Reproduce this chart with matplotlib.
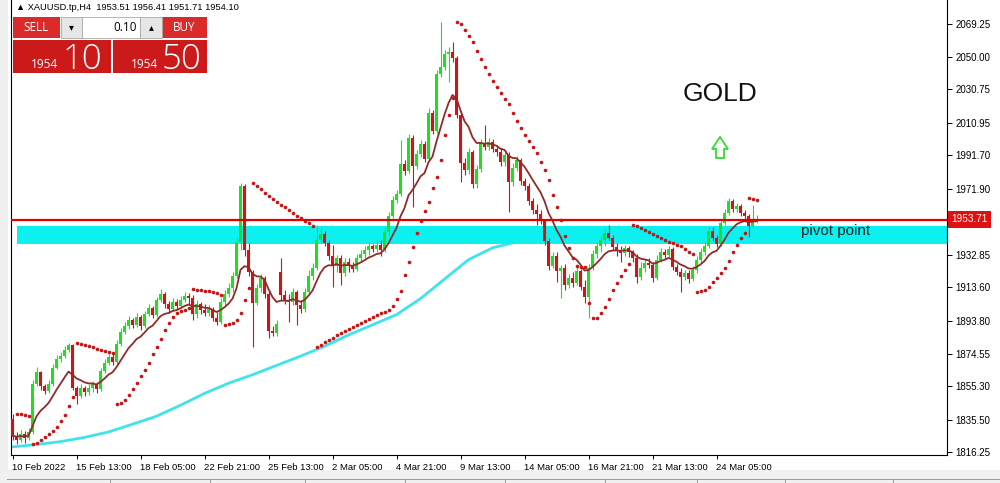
import matplotlib
matplotlib.use("Agg")
import matplotlib.pyplot as plt
import numpy as np
import pandas as pd
from matplotlib.patches import Rectangle, Polygon
from matplotlib.lines import Line2D

# ---------------- data (XAUUSD H4) ----------------
opens = [1835.9, 1825.9, 1823.5, 1827.0, 1824.7, 1828.2, 1856.6, 1863.7, 1855.4, 1852.4,
         1856.6, 1866.0, 1871.3, 1873.1, 1876.7, 1879.6, 1854.2, 1849.5, 1854.2, 1851.8,
         1854.2, 1856.6, 1853.6, 1864.3, 1869.0, 1872.5, 1869.6, 1880.2, 1887.3, 1890.8,
         1894.4, 1891.4, 1896.1, 1890.8, 1897.9, 1901.5, 1897.3, 1906.2, 1909.7, 1903.8,
         1900.9, 1905.0, 1902.6, 1906.2, 1908.6, 1907.4, 1897.9, 1903.8, 1900.3, 1898.5,
         1900.9, 1895.6, 1893.2, 1905.0, 1909.7, 1913.3, 1920.4, 1940.5, 1973.5, 1935.7,
         1922.7, 1904.4, 1913.3, 1919.2, 1909.7, 1887.9, 1886.7, 1922.7, 1909.1, 1906.2,
         1905.0, 1910.9, 1903.2, 1900.9, 1910.9, 1920.4, 1925.1, 1941.6, 1945.2, 1939.9,
         1932.2, 1926.3, 1931.0, 1922.1, 1928.6, 1926.3, 1924.5, 1931.0, 1933.4, 1935.7,
         1938.1, 1936.3, 1938.7, 1935.7, 1946.4, 1955.8, 1965.3, 1968.8, 1986.5, 1982.4,
         2001.9, 1985.3, 1992.4, 1998.3, 1989.5, 2016.7, 2006.0, 2039.7, 2043.8, 2051.5,
         2052.7, 2049.1, 2015.5, 1987.1, 1983.0, 1993.6, 1974.7, 1983.6, 1998.9, 1996.6,
         1999.5, 1995.4, 1993.6, 1987.7, 1991.8, 1975.9, 1984.2, 1988.9, 1976.5, 1973.5,
         1964.7, 1959.4, 1957.0, 1952.9, 1941.0, 1926.3, 1932.2, 1923.3, 1925.1, 1915.0,
         1919.2, 1916.2, 1923.3, 1913.9, 1908.0, 1925.1, 1933.4, 1938.1, 1941.6, 1945.8,
         1942.8, 1937.5, 1935.7, 1934.0, 1936.9, 1934.5, 1931.0, 1919.8, 1925.1, 1928.0,
         1926.9, 1919.2, 1929.8, 1934.5, 1932.8, 1936.3, 1925.7, 1922.7, 1919.8, 1922.1,
         1918.6, 1923.9, 1929.8, 1934.5, 1938.1, 1947.0, 1942.8, 1939.3, 1951.7, 1957.6,
         1964.7, 1959.9, 1961.7, 1957.6, 1955.8, 1949.9, 1953.51]

highs = [1838.8, 1828.2, 1829.4, 1828.8, 1830.6, 1858.9, 1866.6, 1864.3, 1856.6, 1858.9,
         1868.4, 1873.7, 1875.5, 1879.0, 1880.8, 1880.2, 1855.4, 1856.6, 1855.4, 1856.6,
         1858.3, 1857.7, 1866.0, 1871.3, 1874.3, 1874.3, 1882.6, 1889.6, 1893.2, 1896.7,
         1895.6, 1898.5, 1897.3, 1899.7, 1903.8, 1902.6, 1908.0, 1912.7, 1910.9, 1905.6,
         1907.4, 1906.8, 1908.6, 1910.9, 1910.3, 1909.1, 1906.2, 1905.0, 1903.8, 1903.2,
         1902.1, 1899.1, 1907.4, 1912.1, 1916.2, 1922.7, 1942.8, 1975.3, 1974.7, 1939.9,
         1923.9, 1915.6, 1921.5, 1920.4, 1912.1, 1890.8, 1894.4, 1931.0, 1912.1, 1909.7,
         1913.3, 1912.1, 1906.2, 1913.3, 1923.9, 1928.0, 1950.5, 1948.7, 1947.0, 1941.6,
         1938.7, 1932.8, 1932.8, 1931.0, 1931.0, 1928.6, 1933.4, 1935.7, 1938.1, 1940.5,
         1939.3, 1941.6, 1941.6, 1948.7, 1958.2, 1967.6, 1971.2, 2000.7, 1988.9, 2004.2,
         2003.7, 1994.8, 2000.7, 2000.1, 2019.6, 2018.4, 2042.1, 2070.4, 2053.9, 2055.6,
         2058.6, 2050.3, 2017.2, 1990.1, 1996.0, 1994.8, 1985.9, 2001.3, 2009.6, 2001.9,
         2001.3, 1997.7, 1996.0, 1994.8, 1993.6, 1987.1, 1991.3, 1990.1, 1978.3, 1975.3,
         1966.4, 1962.9, 1959.4, 1954.0, 1942.8, 1934.5, 1934.5, 1926.9, 1927.4, 1921.5,
         1922.7, 1925.7, 1924.5, 1918.0, 1927.4, 1935.7, 1940.5, 1944.0, 1948.1, 1950.5,
         1944.6, 1939.9, 1938.1, 1938.7, 1938.1, 1935.7, 1933.4, 1928.6, 1930.4, 1931.0,
         1928.6, 1932.8, 1936.9, 1936.3, 1938.1, 1937.5, 1927.4, 1925.1, 1923.9, 1923.9,
         1926.3, 1932.2, 1936.9, 1940.5, 1949.3, 1949.3, 1944.6, 1953.4, 1959.9, 1966.4,
         1965.8, 1963.5, 1962.9, 1959.4, 1957.0, 1962.3, 1956.41]

lows = [1823.5, 1821.1, 1822.3, 1821.7, 1823.5, 1827.0, 1855.4, 1853.0, 1850.7, 1851.3,
        1855.4, 1865.4, 1869.6, 1871.9, 1875.5, 1853.0, 1844.8, 1848.3, 1849.5, 1850.1,
        1851.8, 1851.3, 1852.4, 1863.1, 1867.8, 1867.8, 1868.4, 1879.0, 1886.1, 1889.0,
        1889.6, 1890.2, 1888.5, 1889.6, 1896.7, 1895.6, 1896.1, 1905.0, 1901.5, 1898.5,
        1899.7, 1900.3, 1901.5, 1905.0, 1903.8, 1894.4, 1895.6, 1897.9, 1896.7, 1896.7,
        1893.8, 1891.4, 1892.0, 1903.2, 1908.0, 1910.9, 1919.2, 1935.7, 1932.2, 1920.4,
        1878.4, 1903.2, 1910.9, 1907.4, 1883.7, 1884.9, 1884.9, 1906.2, 1903.8, 1893.2,
        1903.2, 1891.4, 1898.5, 1899.1, 1909.1, 1918.0, 1923.9, 1939.9, 1938.1, 1929.8,
        1913.9, 1922.7, 1915.0, 1920.4, 1922.7, 1922.7, 1923.3, 1928.6, 1931.0, 1932.8,
        1934.5, 1934.5, 1932.2, 1934.5, 1944.0, 1954.6, 1963.5, 1967.6, 1980.0, 1981.2,
        1961.1, 1983.6, 1990.7, 1987.7, 1988.3, 2004.2, 2004.8, 2037.9, 2042.1, 2035.0,
        2046.8, 2013.7, 1975.9, 1980.0, 1980.6, 1972.3, 1972.3, 1981.8, 1994.8, 1994.8,
        1993.6, 1991.3, 1985.3, 1985.3, 1958.2, 1973.5, 1982.4, 1974.1, 1971.2, 1962.3,
        1957.0, 1950.5, 1951.1, 1938.7, 1923.9, 1925.1, 1916.8, 1907.4, 1912.1, 1913.3,
        1913.9, 1915.0, 1912.1, 1904.4, 1895.6, 1923.9, 1931.0, 1934.5, 1938.1, 1941.6,
        1935.7, 1932.2, 1928.6, 1932.2, 1931.6, 1928.6, 1916.2, 1918.0, 1922.7, 1925.1,
        1916.8, 1918.0, 1928.6, 1931.0, 1931.6, 1923.9, 1921.0, 1910.9, 1918.0, 1916.2,
        1917.4, 1922.1, 1928.0, 1932.8, 1936.9, 1941.0, 1937.5, 1938.1, 1950.5, 1956.4,
        1958.2, 1958.2, 1955.8, 1954.0, 1943.4, 1948.7, 1951.71]

closes = [1825.9, 1823.5, 1827.0, 1824.7, 1828.2, 1856.6, 1863.7, 1855.4, 1852.4, 1856.6,
          1866.0, 1871.3, 1873.1, 1876.7, 1879.6, 1854.2, 1849.5, 1854.2, 1851.8, 1854.2,
          1856.6, 1853.6, 1864.3, 1869.0, 1872.5, 1869.6, 1880.2, 1887.3, 1890.8, 1894.4,
          1891.4, 1896.1, 1890.8, 1897.9, 1901.5, 1897.3, 1906.2, 1909.7, 1903.8, 1900.9,
          1905.0, 1902.6, 1906.2, 1908.6, 1907.4, 1897.9, 1903.8, 1900.3, 1898.5, 1900.9,
          1895.6, 1893.2, 1905.0, 1909.7, 1913.3, 1920.4, 1940.5, 1973.5, 1935.7, 1922.7,
          1904.4, 1913.3, 1919.2, 1909.7, 1887.9, 1886.7, 1892.0, 1909.1, 1906.2, 1905.0,
          1910.9, 1903.2, 1900.9, 1910.9, 1920.4, 1925.1, 1941.6, 1945.2, 1939.9, 1932.2,
          1926.3, 1931.0, 1922.1, 1928.6, 1926.3, 1924.5, 1931.0, 1933.4, 1935.7, 1938.1,
          1936.3, 1938.7, 1935.7, 1946.4, 1955.8, 1965.3, 1968.8, 1986.5, 1982.4, 2001.9,
          1985.3, 1992.4, 1998.3, 1989.5, 2016.7, 2006.0, 2039.7, 2043.8, 2051.5, 2052.7,
          2049.1, 2015.5, 1987.1, 1983.0, 1993.6, 1974.7, 1983.6, 1998.9, 1996.6, 1999.5,
          1995.4, 1993.6, 1987.7, 1991.8, 1975.9, 1984.2, 1988.9, 1976.5, 1973.5, 1964.7,
          1959.4, 1957.0, 1952.9, 1941.0, 1926.3, 1932.2, 1923.3, 1925.1, 1915.0, 1919.2,
          1916.2, 1923.3, 1913.9, 1908.0, 1925.1, 1933.4, 1938.1, 1941.6, 1945.8, 1942.8,
          1937.5, 1935.7, 1934.0, 1936.9, 1934.5, 1931.0, 1919.8, 1925.1, 1928.0, 1926.9,
          1919.2, 1929.8, 1934.5, 1932.8, 1936.3, 1925.7, 1922.7, 1919.8, 1922.1, 1918.6,
          1923.9, 1929.8, 1934.5, 1938.1, 1947.0, 1942.8, 1939.3, 1951.7, 1957.6, 1964.7,
          1959.9, 1961.7, 1957.6, 1955.8, 1949.9, 1953.4, 1954.10]

# slow moving average (one reading per trading day = every 6th H4 bar)
slow_ma_bars = list(range(0, 187, 6))
slow_ma_values = [1819.4, 1820.8, 1822.5, 1825.0, 1828.2, 1832.8, 1837.5, 1844.0,
                  1851.0, 1857.0, 1862.0, 1867.5, 1873.0, 1878.8, 1885.5, 1891.5,
                  1897.5, 1907.0, 1918.5, 1930.0, 1937.0, 1940.5, 1941.5, 1942.5,
                  1943.5, 1944.5, 1945.0, 1945.5, 1946.0, 1946.5, 1947.0, 1947.5]

x_tick_bars = [0, 16, 32, 48, 64, 80, 96, 112, 128, 144, 160, 176]
x_tick_labels = ["10 Feb 2022", "15 Feb 13:00", "18 Feb 05:00", "22 Feb 21:00",
                 "25 Feb 13:00", "2 Mar 05:00", "4 Mar 21:00", "9 Mar 13:00",
                 "14 Mar 05:00", "16 Mar 21:00", "21 Mar 13:00", "24 Mar 05:00"]
y_tick_values = [2069.25, 2050.00, 2030.75, 2010.95, 1991.70, 1971.90, 1952.65,
                 1932.85, 1913.60, 1893.80, 1874.55, 1855.30, 1835.50, 1816.25]

pivot_zone = (1939.3, 1949.9)
price_line = 1953.71
ohlc_header = "\u25B2 XAUUSD.tp,H4  1953.51 1956.41 1951.71 1954.10"
sell_big, buy_big = ("1954", "10"), ("1954", "50")
lot_size = "0.10"

# ---------------- indicators ----------------
o = np.array(opens); h = np.array(highs); l = np.array(lows); c = np.array(closes)
n = len(c)
assert len(o) == len(h) == len(l) == n
fast_ma = pd.Series(c).ewm(span=10, adjust=False).mean().values


def parabolic_sar(hi, lo, step=0.02, amax=0.2):
    sar = np.zeros(len(hi))
    up = False
    af = step
    ep = lo[0]
    s = hi[0]
    sar[0] = s
    for i in range(1, len(hi)):
        s = s + af * (ep - s)
        if up:
            s = min(s, lo[i - 1], lo[max(i - 2, 0)])
            if lo[i] < s:
                up = False; s = ep; ep = lo[i]; af = step
            elif hi[i] > ep:
                ep = hi[i]; af = min(af + step, amax)
        else:
            s = max(s, hi[i - 1], hi[max(i - 2, 0)])
            if hi[i] > s:
                up = True; s = ep; ep = hi[i]; af = step
            elif lo[i] < ep:
                ep = lo[i]; af = min(af + step, amax)
        sar[i] = s
    return sar


sar = parabolic_sar(h, l)

# ---------------- figure ----------------
W, H = 1000, 483
fig = plt.figure(figsize=(W / 100, H / 100), dpi=100)
fig.patch.set_facecolor("white")
AX_FONT = ["Liberation Sans", "DejaVu Sans"]


def fx(x):
    return x / W


def fy(y):
    return 1 - y / H


ax = fig.add_axes([fx(11), fy(455), fx(947) - fx(11), fy(0) - fy(455)])
ax.set_facecolor("white")
ax.set_xlim(-0.375, 233.625)
ax.set_ylim(1814.6, 2083.4)

green, red = "#22DD22", "#D41212"
x = np.arange(n)
cols = np.where(c >= o, green, red)

ax.plot(slow_ma_bars, slow_ma_values, color="#3FE3EA", lw=2.0, zorder=1,
        solid_capstyle="round")
ax.axhspan(pivot_zone[0], pivot_zone[1], xmin=(1.0 + 0.375) / 234.0, xmax=1.0,
           color="#0DF0F0", lw=0, zorder=2)
ax.vlines(x, l, h, colors=cols, lw=0.8, zorder=4)
body = np.maximum(np.abs(c - o), 0.5)
ax.bar(x, body, bottom=np.minimum(o, c), width=0.8, color=cols, lw=0, zorder=4)
ax.plot(x, fast_ma, color="#8E2B2B", lw=1.3, zorder=5)
ax.plot(x[1:], sar[1:], ls="none", marker="o", ms=2.6, mfc="#C81414",
        mec="#C81414", mew=0, zorder=6)
ax.axhline(price_line, color="#E00000", lw=1.6, zorder=5.5)

ax.spines["top"].set_visible(False)
for side in ["left", "right", "bottom"]:
    ax.spines[side].set_color("black")
    ax.spines[side].set_linewidth(0.8)

ax.yaxis.tick_right()
ax.set_yticks(y_tick_values)
# the 1952.65 label sits under the current-price box, so it is not shown
ax.set_yticklabels(["" if abs(v - price_line) < 3 else "%.2f" % v
                    for v in y_tick_values], family=AX_FONT)
ax.tick_params(axis="y", direction="out", length=3.5, width=0.7, pad=2.5,
               labelsize=7.0, colors="black")
ax.set_xticks(x_tick_bars)
ax.set_xticklabels(x_tick_labels, family=AX_FONT)
ax.tick_params(axis="x", direction="out", length=3, width=0.7, pad=3,
               labelsize=6.8, colors="black")
for lbl in ax.get_xticklabels():
    lbl.set_horizontalalignment("left")

# current price label on the price scale
fig.text(fx(951), fy(219.5), "%.2f" % price_line, color="white", fontsize=7.2,
         ha="left", va="center", family=AX_FONT,
         bbox=dict(boxstyle="square,pad=0.35", fc="#E01010", ec="none"))

# annotation texts
fig.text(fx(720), fy(94), "GOLD", ha="center", va="center", fontsize=19,
         family="Liberation Sans", color="#111111")
fig.text(fx(801), fy(231), "pivot point", ha="left", va="center", fontsize=11,
         family="Liberation Sans", color="#222222", zorder=10)
arrow_px = [(712, 149), (720, 137), (728, 149), (724, 149), (724, 158),
            (716, 158), (716, 149)]
fig.add_artist(Polygon([(fx(a), fy(b)) for a, b in arrow_px], closed=True,
                       transform=fig.transFigure, fc="white", ec="#33DD33", lw=1.3))

# header line
fig.text(fx(16), fy(8), ohlc_header, ha="left", va="center", fontsize=6.7,
         color="black", family=AX_FONT)


def rect(x0, y0, x1, y1, **kw):
    fig.add_artist(Rectangle((fx(x0), fy(y1)), fx(x1) - fx(x0), fy(y0) - fy(y1),
                             transform=fig.transFigure, **kw))


# one-click trading panel
rect(13, 17, 60, 38, fc="#DB2A2A", ec="none")
rect(162, 17, 207, 38, fc="#DB2A2A", ec="none")
rect(61, 17, 82, 38, fc="#E6E6E6", ec="#A8A8A8", lw=0.6)
rect(82, 17, 140, 38, fc="white", ec="#A8A8A8", lw=0.6)
rect(140, 17, 162, 38, fc="#E6E6E6", ec="#A8A8A8", lw=0.6)
rect(13, 40, 111, 73, fc="#CC1A1A", ec="none")
rect(113, 40, 207, 73, fc="#CC1A1A", ec="none")
fig.text(fx(36.5), fy(27.5), "SELL", color="white", fontsize=8.5, ha="center",
         va="center", family="Open Sans")
fig.text(fx(184.5), fy(27.5), "BUY", color="white", fontsize=8.5, ha="center",
         va="center", family="Open Sans")
fig.text(fx(71.5), fy(27), "\u25BE", color="black", fontsize=7, ha="center", va="center")
fig.text(fx(151), fy(27), "\u25B4", color="black", fontsize=7, ha="center", va="center")
fig.text(fx(137), fy(27.5), lot_size, color="black", fontsize=8.5, ha="right",
         va="center", family="Open Sans")
fig.text(fx(58), fy(68), sell_big[0], color="white", fontsize=8.5, ha="right",
         va="baseline", family="Open Sans")
fig.text(fx(63), fy(69), sell_big[1], color="white", fontsize=25, ha="left",
         va="baseline", family="Open Sans", fontweight="light")
fig.text(fx(158), fy(68), buy_big[0], color="white", fontsize=8.5, ha="right",
         va="baseline", family="Open Sans")
fig.text(fx(162), fy(69), buy_big[1], color="white", fontsize=25, ha="left",
         va="baseline", family="Open Sans", fontweight="light")

# window chrome: left strip and bottom tab bar
rect(0, 0, 8, 470, fc="#F0F0F0", ec="none")
rect(0, 470, 1000, 483, fc="#F0F0F0", ec="none")
fig.add_artist(Line2D([fx(7), fx(1000)], [fy(478.5), fy(478.5)],
                      transform=fig.transFigure, color="#9A9A9A", lw=0.7))
for xd in [110, 210, 305, 405, 505, 605, 697, 785, 893]:
    fig.add_artist(Line2D([fx(xd), fx(xd)], [fy(478.5), fy(483)],
                          transform=fig.transFigure, color="#9A9A9A", lw=0.7))

fig.savefig("out.png", dpi=100, facecolor="white")
